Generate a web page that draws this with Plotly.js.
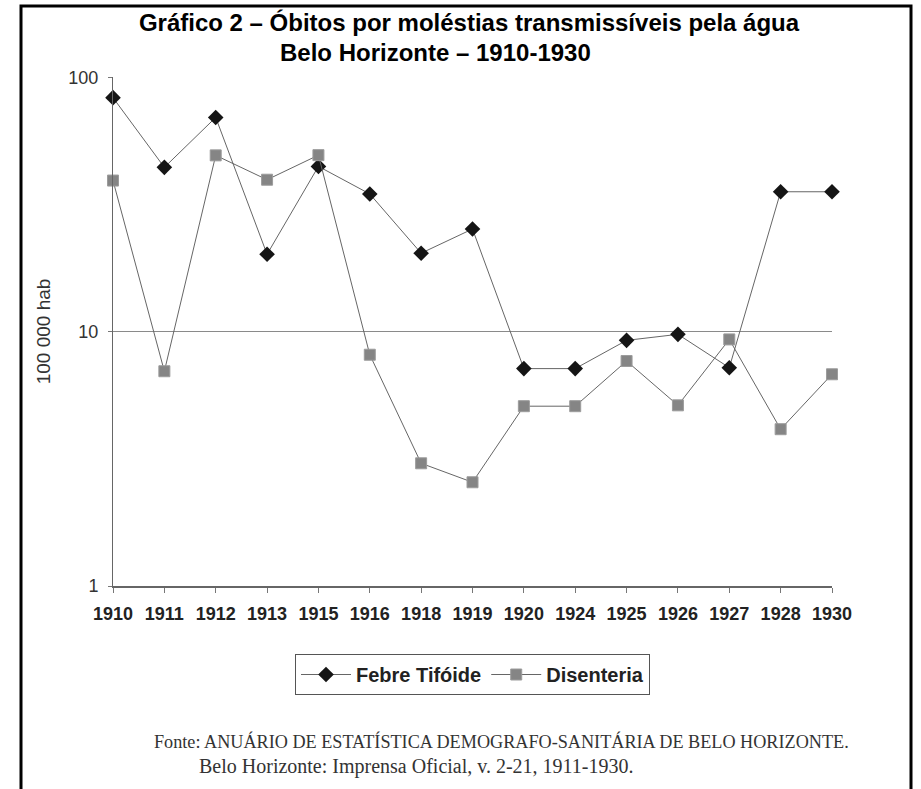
<!DOCTYPE html>
<html>
<head>
<meta charset="utf-8">
<script src="https://cdn.plot.ly/plotly-3.0.1.min.js"></script>
<style>html,body{margin:0;padding:0;background:#fff;}</style>
</head>
<body>
<div id="chart" style="width:921px;height:789px;"></div>
<script>
const years = ["1910","1911","1912","1913","1915","1916","1918","1919","1920","1924","1925","1926","1927","1928","1930"];
const febreTifoide = [83.5, 44.4, 69.8, 20.2, 44.8, 34.9, 20.4, 25.4, 7.17, 7.17, 9.26, 9.78, 7.23, 35.6, 35.6];
const disenteria = [39.4, 7.0, 49.5, 39.7, 49.6, 8.13, 3.04, 2.56, 5.10, 5.10, 7.68, 5.14, 9.34, 4.14, 6.81];
const yTicks = [1, 10, 100];
const titleLine1 = "Gráfico 2 – Óbitos por moléstias transmissíveis pela água";
const titleLine2 = "Belo Horizonte – 1910-1930";
const yTitle = "100 000 hab";
const source1 = "Fonte: ANUÁRIO DE ESTATÍSTICA DEMOGRAFO-SANITÁRIA DE BELO HORIZONTE.";
const source2 = "Belo Horizonte: Imprensa Oficial, v. 2-21, 1911-1930.";

const L = 113, R = 89, T = 77, B = 203, W = 921, H = 789;
const pw = W - L - R, ph = H - T - B;
const px = x => (x - L) / pw;
const py = y => (H - B - y) / ph;

const sans = "'Liberation Sans', Arial, sans-serif";
const serif = "'Liberation Serif', 'Times New Roman', serif";

const traces = [
  {
    x: years, y: febreTifoide, name: "Febre Tifóide", type: "scatter", mode: "lines+markers",
    line: {color: "#666", width: 1},
    marker: {symbol: "diamond", size: 12, color: "#151515"},
    cliponaxis: false
  },
  {
    x: years, y: disenteria, name: "Disenteria", type: "scatter", mode: "lines+markers",
    line: {color: "#666", width: 1},
    marker: {symbol: "square", size: 11, color: "#858585", line: {color: "#9c9c9c", width: 1}},
    cliponaxis: false
  }
];

const layout = {
  width: W, height: H,
  margin: {l: L, r: R, t: T, b: B},
  paper_bgcolor: "#fff", plot_bgcolor: "#fff",
  showlegend: true,
  title: {
    text: titleLine1, xref: "container", yref: "container",
    x: 469 / W, xanchor: "center", y: 1 - 23 / H, yanchor: "middle",
    font: {family: sans, size: 24, color: "#000", weight: "bold"}
  },
  xaxis: {
    type: "category", range: [0, 14],
    showgrid: false, zeroline: false,
    showline: true, linecolor: "#666", linewidth: 1.5,
    ticks: "outside", ticklen: 5, tickcolor: "#777", tickwidth: 1,
    ticklabelstandoff: 6,
    tickfont: {family: sans, size: 18, color: "#222", weight: "bold"}
  },
  yaxis: {
    type: "log", range: [0, 2.003],
    tickvals: yTicks, ticktext: yTicks.map(String),
    showgrid: true, gridcolor: "#8a8a8a", gridwidth: 1,
    zeroline: false,
    showline: true, linecolor: "#666", linewidth: 1,
    ticks: "outside", ticklen: 4, tickcolor: "#777",
    ticklabelstandoff: 6,
    tickfont: {family: sans, size: 18, color: "#333"},
    title: {text: yTitle, standoff: 12, font: {family: sans, size: 19, color: "#333"}}
  },
  legend: {
    orientation: "h", x: px(295), xanchor: "left", y: py(654), yanchor: "top",
    bordercolor: "#555", borderwidth: 1, bgcolor: "#fff",
    itemwidth: 50,
    font: {family: sans, size: 20, color: "#222", weight: "bold"}
  },
  annotations: [
    {text: titleLine2, xref: "paper", yref: "paper", x: px(435), xanchor: "center", y: py(53), yanchor: "middle",
     showarrow: false, font: {family: sans, size: 24, color: "#000", weight: "bold"}},
    {text: source1, xref: "paper", yref: "paper", x: px(152), xanchor: "left", y: py(741), yanchor: "middle",
     showarrow: false, font: {family: serif, size: 18.2, color: "#333"}},
    {text: source2, xref: "paper", yref: "paper", x: px(197), xanchor: "left", y: py(766), yanchor: "middle",
     showarrow: false, font: {family: serif, size: 20, color: "#333"}}
  ],
  shapes: [
    {type: "rect", xref: "paper", yref: "paper", x0: px(21), x1: px(911), y0: py(6), y1: py(820),
     line: {color: "#000", width: 3}, fillcolor: "rgba(0,0,0,0)", layer: "above"}
  ]
};

Plotly.newPlot("chart", traces, layout, {displayModeBar: false, staticPlot: true});
</script>
</body>
</html>
